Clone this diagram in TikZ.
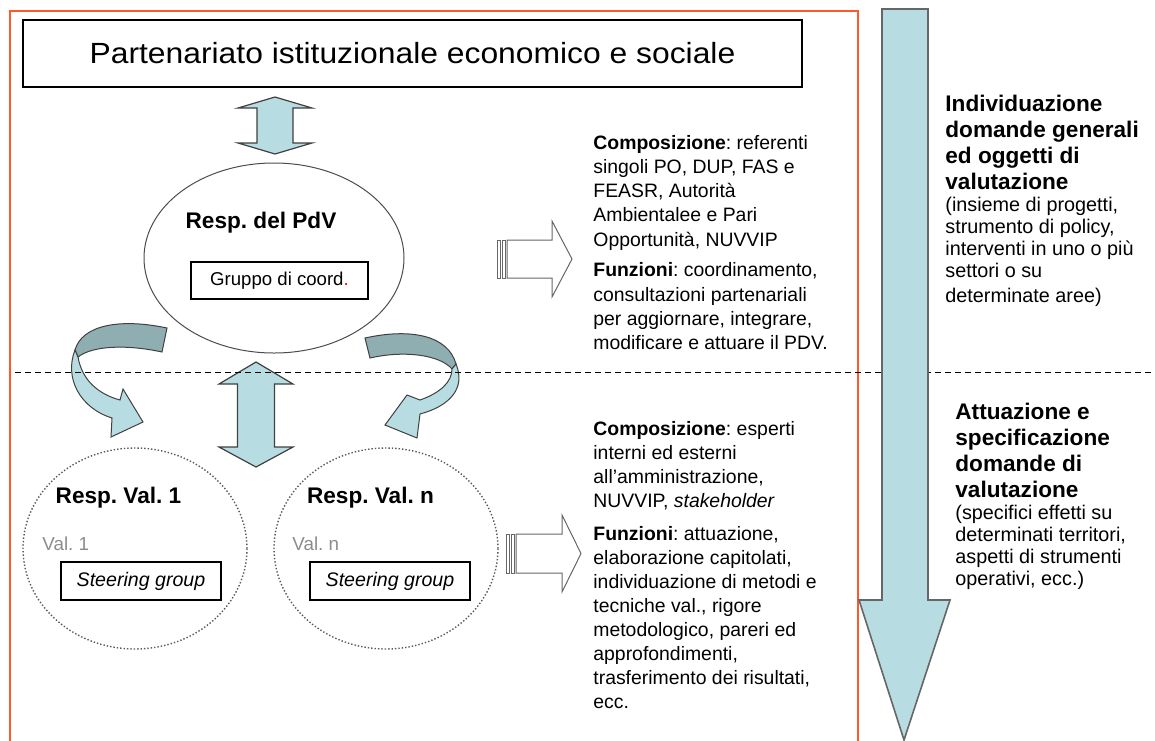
\documentclass[tikz,border=0pt]{standalone}
\usepackage{fontspec}
\setmainfont{Liberation Sans}
\newfontfamily\titlefont{Liberation Sans}[FakeStretch=1.09]
\usetikzlibrary{shapes.geometric}
\definecolor{arrowblue}{RGB}{183,221,226}
\definecolor{ribbondark}{RGB}{143,174,177}
\definecolor{framered}{RGB}{255,88,45}
\definecolor{valgray}{RGB}{140,140,140}
\frenchspacing
\newcommand\infofont{\fontsize{9.7}{12.15}\selectfont}
\tikzset{
  blockarrow/.style={fill=arrowblue,draw=black!75,line width=0.6pt},
  ribbonback/.style={fill=ribbondark,draw=black!75,line width=0.5pt},
  hollowarrow/.style={fill=white,draw=black!60,line width=0.5pt},
  labelbox/.style={draw,line width=0.6pt,inner sep=0pt},
  valcircle/.style={ellipse,draw=black!65,densely dotted,line width=0.7pt,
    minimum width=112pt,minimum height=100.5pt},
  headtext/.style={font=\bfseries\fontsize{11.3}{13}\selectfont,anchor=base,inner sep=0pt},
  valtext/.style={font=\fontsize{9.4}{11}\selectfont,text=valgray,anchor=base west,inner sep=0pt},
  steerbox/.style={labelbox,minimum width=80pt,minimum height=19pt,
    font=\itshape\fontsize{9.8}{11}\selectfont},
  infotext/.style={anchor=base west,inner sep=0pt}
}
\begin{document}
\begin{tikzpicture}[x=0.5pt,y=-0.5pt]
\useasboundingbox (0,0) rectangle (1155,740);
% frame round the diagram
\draw[framered,line width=1pt] (10,745) -- (10,11) -- (858,11) -- (858,745);
\node (title) at (412.5,53.5) [draw,line width=0.8pt,minimum width=389.5pt,minimum height=33.5pt,
  font=\titlefont\fontsize{14.6}{17}\selectfont] {Partenariato istituzionale economico e sociale};

% responsabile del piano
\node (pdv) at (274,258) [ellipse,draw=black!70,line width=0.5pt,minimum width=130pt,minimum height=95pt] {};
\node (resppdv) at (261,228) [headtext] {Resp. del PdV};
\node (coord) at (279.5,280.5) [labelbox,minimum width=88.5pt,minimum height=18.5pt,
  font=\fontsize{9.3}{11}\selectfont] {Gruppo di coord\textcolor{red}{.}};

% responsabili delle valutazioni
\node (val1) at (135,548.5) [valcircle] {};
\node (valn) at (386,548.5) [valcircle] {};
\node (respval1) at (118.5,503) [headtext] {Resp. Val. 1};
\node (respvaln) at (370.5,503) [headtext] {Resp. Val. n};
\node (lab1) at (42,550) [valtext] {Val. 1};
\node (labn) at (292,550) [valtext] {Val. n};
\node (steer1) at (141,581) [steerbox] {Steering group};
\node (steern) at (390,581) [steerbox] {Steering group};

% frecce blu
\draw[blockarrow] (275,97) -- (312,108) -- (293,108) -- (293,143) -- (312,143) -- (275,154)
  -- (238,143) -- (257,143) -- (257,108) -- (238,108) -- cycle;
\draw[blockarrow] (256,362) -- (293,384) -- (274.5,384) -- (274.5,447) -- (293,447) -- (256,467)
  -- (219,447) -- (237.5,447) -- (237.5,384) -- (219,384) -- cycle;
\draw[ribbonback] (167,328) .. controls (120,318) and (82,325) .. (75,350) -- (78,357)
  .. controls (92,346) and (125,344) .. (162,352) -- cycle;
\draw[blockarrow,line width=0.5pt] (75,350) .. controls (64,378) and (80,408) .. (112,418) -- (111,437)
  -- (143,422) -- (123,389) -- (120,400) .. controls (98,394) and (82,380) .. (78,357) -- cycle;
\draw[ribbonback] (365,338) .. controls (410,328) and (448,335) .. (456,364) -- (452,369)
  .. controls (440,355) and (405,350) .. (370,358) -- cycle;
\draw[blockarrow,line width=0.5pt] (456,364) .. controls (466,388) and (450,406) .. (420,414) -- (417,438)
  -- (385,425) -- (407,395) -- (420,400) .. controls (440,393) and (452,382) .. (452,369) -- cycle;

% frecce vuote
\draw[hollowarrow] (497,240) rectangle (500,278);
\draw[hollowarrow] (502,240) rectangle (505,278);
\draw[hollowarrow] (507,240) -- (552,240) -- (552,221) -- (572,259) -- (552,297) -- (552,278) -- (507,278) -- cycle;
\draw[hollowarrow] (506,534) rectangle (509,573);
\draw[hollowarrow] (511,534) rectangle (514,573);
\draw[hollowarrow] (516,534) -- (562,534) -- (562,515) -- (581,553.5) -- (562,592) -- (562,573) -- (516,573) -- cycle;

\draw[dashed,dash pattern=on 3pt off 2pt,line width=0.5pt] (15,372) -- (1155,372);

% freccia delle fasi
\draw[blockarrow,draw=black!60,line width=0.8pt] (882,9) -- (928,9) -- (928,600) -- (950,600)
  -- (904,740) -- (859,600) -- (882,600) -- cycle;

\node (infopdv) at (593,149) [infotext] {\parbox[t]{140pt}{\infofont
  \textbf{Composizione}: referenti\\ singoli PO, DUP, FAS e\\ FEASR, Autorità\\
  Ambientalee e Pari\\ Opportunità, NUVVIP\\[3.2pt]
  \textbf{Funzioni}: coordinamento,\\ consultazioni partenariali\\
  per aggiornare, integrare,\\ modificare e attuare il PDV.}};
\node (infoval) at (593,435) [infotext] {\parbox[t]{140pt}{\fontsize{9.7}{12}\selectfont
  \textbf{Composizione}: esperti\\ interni ed esterni\\ all’amministrazione,\\
  NUVVIP, \textit{stakeholder}\\[4.5pt]
  \textbf{Funzioni}: attuazione,\\ elaborazione capitolati,\\ individuazione di metodi e\\
  tecniche val., rigore\\ metodologico,  pareri ed\\ approfondimenti,\\
  trasferimento dei risultati,\\ ecc.}};

\node (phase1) at (945,111) [infotext] {\parbox[t]{200pt}{\fontsize{11.3}{13}\selectfont\bfseries
  Individuazione\\ domande generali\\ ed oggetti di\\ valutazione\par
  \fontsize{9.9}{11}\selectfont\mdseries (insieme di progetti,\\ strumento di policy,\\
  interventi in uno o più\\ settori o su\\[1.5pt] determinate aree)}};
\node (phase2) at (955,419) [infotext] {\parbox[t]{200pt}{\fontsize{11.3}{13}\selectfont\bfseries
  Attuazione e\\ specificazione\\ domande di\\ valutazione\par
  \fontsize{9.9}{11}\selectfont\mdseries (specifici effetti su\\ determinati territori,\\
  aspetti di strumenti\\ operativi, ecc.)}};
\end{tikzpicture}
\end{document}
